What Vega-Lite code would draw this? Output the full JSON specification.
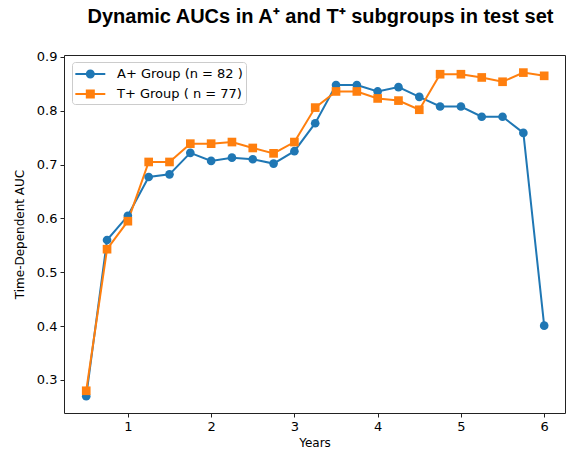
{
  "$schema": "https://vega.github.io/schema/vega-lite/v6.json",
  "width": 501,
  "height": 358,
  "autosize": "none",
  "padding": {"left": 64, "top": 55, "right": 1, "bottom": 41},
  "background": "white",
  "config": {
    "view": {"stroke": "#222", "strokeWidth": 1},
    "font": "DejaVu Sans",
    "axis": {"grid": false, "domain": false, "tickColor": "#222", "tickSize": 4, "labelColor": "#000", "labelFontSize": 13, "titleColor": "#000", "titleFontWeight": "normal", "titleFontSize": 12, "labelFont": "DejaVu Sans", "titleFont": "DejaVu Sans"}
  },
  "title": {"text": "Dynamic AUCs in A⁺ and T⁺ subgroups in test set", "font": "Liberation Sans", "fontSize": 20, "fontWeight": "bold", "color": "#000", "anchor": "middle", "dx": 6, "offset": 24},
  "data": {"values": [
    {"year": 0.5, "auc": 0.270, "group": "A+ Group (n = 82 )"},
    {"year": 0.75, "auc": 0.560, "group": "A+ Group (n = 82 )"},
    {"year": 1.0, "auc": 0.605, "group": "A+ Group (n = 82 )"},
    {"year": 1.25, "auc": 0.677, "group": "A+ Group (n = 82 )"},
    {"year": 1.5, "auc": 0.682, "group": "A+ Group (n = 82 )"},
    {"year": 1.75, "auc": 0.722, "group": "A+ Group (n = 82 )"},
    {"year": 2.0, "auc": 0.707, "group": "A+ Group (n = 82 )"},
    {"year": 2.25, "auc": 0.713, "group": "A+ Group (n = 82 )"},
    {"year": 2.5, "auc": 0.710, "group": "A+ Group (n = 82 )"},
    {"year": 2.75, "auc": 0.702, "group": "A+ Group (n = 82 )"},
    {"year": 3.0, "auc": 0.725, "group": "A+ Group (n = 82 )"},
    {"year": 3.25, "auc": 0.777, "group": "A+ Group (n = 82 )"},
    {"year": 3.5, "auc": 0.848, "group": "A+ Group (n = 82 )"},
    {"year": 3.75, "auc": 0.848, "group": "A+ Group (n = 82 )"},
    {"year": 4.0, "auc": 0.836, "group": "A+ Group (n = 82 )"},
    {"year": 4.25, "auc": 0.844, "group": "A+ Group (n = 82 )"},
    {"year": 4.5, "auc": 0.826, "group": "A+ Group (n = 82 )"},
    {"year": 4.75, "auc": 0.808, "group": "A+ Group (n = 82 )"},
    {"year": 5.0, "auc": 0.808, "group": "A+ Group (n = 82 )"},
    {"year": 5.25, "auc": 0.789, "group": "A+ Group (n = 82 )"},
    {"year": 5.5, "auc": 0.789, "group": "A+ Group (n = 82 )"},
    {"year": 5.75, "auc": 0.759, "group": "A+ Group (n = 82 )"},
    {"year": 6.0, "auc": 0.401, "group": "A+ Group (n = 82 )"},
    {"year": 0.5, "auc": 0.280, "group": "T+ Group ( n = 77)"},
    {"year": 0.75, "auc": 0.543, "group": "T+ Group ( n = 77)"},
    {"year": 1.0, "auc": 0.595, "group": "T+ Group ( n = 77)"},
    {"year": 1.25, "auc": 0.705, "group": "T+ Group ( n = 77)"},
    {"year": 1.5, "auc": 0.705, "group": "T+ Group ( n = 77)"},
    {"year": 1.75, "auc": 0.739, "group": "T+ Group ( n = 77)"},
    {"year": 2.0, "auc": 0.739, "group": "T+ Group ( n = 77)"},
    {"year": 2.25, "auc": 0.742, "group": "T+ Group ( n = 77)"},
    {"year": 2.5, "auc": 0.731, "group": "T+ Group ( n = 77)"},
    {"year": 2.75, "auc": 0.721, "group": "T+ Group ( n = 77)"},
    {"year": 3.0, "auc": 0.742, "group": "T+ Group ( n = 77)"},
    {"year": 3.25, "auc": 0.806, "group": "T+ Group ( n = 77)"},
    {"year": 3.5, "auc": 0.836, "group": "T+ Group ( n = 77)"},
    {"year": 3.75, "auc": 0.836, "group": "T+ Group ( n = 77)"},
    {"year": 4.0, "auc": 0.823, "group": "T+ Group ( n = 77)"},
    {"year": 4.25, "auc": 0.819, "group": "T+ Group ( n = 77)"},
    {"year": 4.5, "auc": 0.802, "group": "T+ Group ( n = 77)"},
    {"year": 4.75, "auc": 0.868, "group": "T+ Group ( n = 77)"},
    {"year": 5.0, "auc": 0.868, "group": "T+ Group ( n = 77)"},
    {"year": 5.25, "auc": 0.862, "group": "T+ Group ( n = 77)"},
    {"year": 5.5, "auc": 0.854, "group": "T+ Group ( n = 77)"},
    {"year": 5.75, "auc": 0.871, "group": "T+ Group ( n = 77)"},
    {"year": 6.0, "auc": 0.865, "group": "T+ Group ( n = 77)"}
  ]},
  "encoding": {
    "x": {"field": "year", "type": "quantitative", "title": "Years", "scale": {"domain": [0.233, 6.25], "nice": false, "zero": false}, "axis": {"values": [1, 2, 3, 4, 5, 6], "format": "d", "labelPadding": 3, "titlePadding": 4}},
    "y": {"field": "auc", "type": "quantitative", "title": "Time-Dependent AUC", "scale": {"domain": [0.2387, 0.9037], "nice": false, "zero": false}, "axis": {"values": [0.3, 0.4, 0.5, 0.6, 0.7, 0.8, 0.9], "format": ".1f", "labelPadding": 3, "titlePadding": 10}},
    "color": {"field": "group", "type": "nominal", "scale": {"domain": ["A+ Group (n = 82 )", "T+ Group ( n = 77)"], "range": ["#1f77b4", "#ff7f0e"]}}
  },
  "layer": [
    {
      "mark": {"type": "line", "strokeWidth": 2},
      "encoding": {
        "color": {"field": "group", "type": "nominal", "legend": {
          "title": null, "orient": "none", "legendX": 8, "legendY": 7,
          "padding": 3, "strokeColor": "#ccc", "fillColor": "white", "cornerRadius": 3,
          "labelFontSize": 13, "labelFont": "DejaVu Sans", "labelColor": "#000",
          "symbolSize": 300, "rowPadding": 4, "labelOffset": 24,
          "encode": {"symbols": {"update": {
            "shape": {"signal": "datum.value === 'A+ Group (n = 82 )' ? 'M-1,-0.115H2.46V0.115H-1Z M0.21,0A0.52,0.52 0 1,1 1.25,0A0.52,0.52 0 1,1 0.21,0Z' : 'M-1,-0.115H2.46V0.115H-1Z M0.21,-0.52H1.25V0.52H0.21Z'"},
            "fill": {"scale": "color", "field": "value"},
            "fillOpacity": {"value": 1},
            "strokeWidth": {"value": 0}
          }}}
        }}
      }
    },
    {
      "mark": {"type": "point", "filled": true, "opacity": 1, "size": 75},
      "encoding": {
        "shape": {"condition": {"test": "datum.group === 'A+ Group (n = 82 )'", "value": "circle"}, "value": "square"}
      }
    }
  ]
}
